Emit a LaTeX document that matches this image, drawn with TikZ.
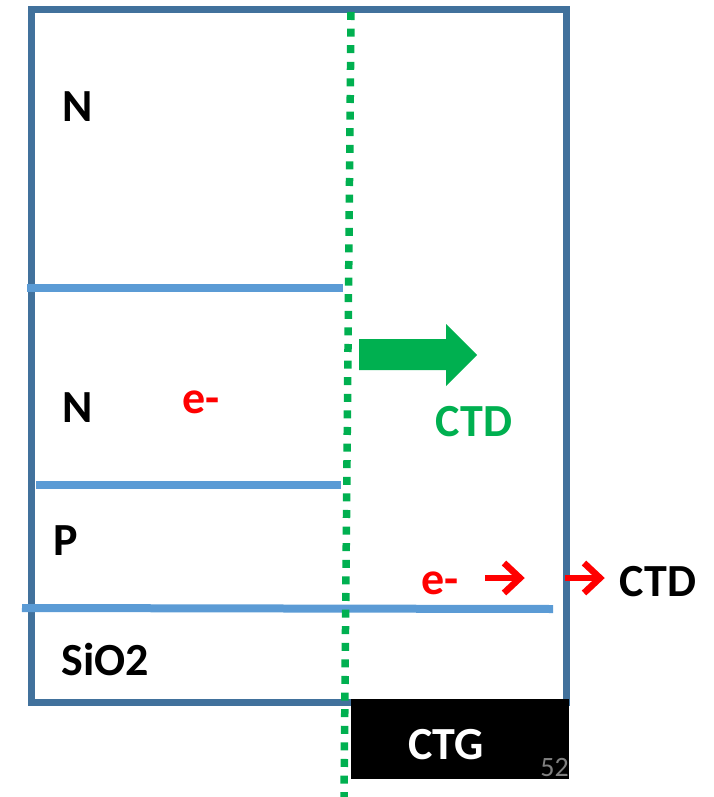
\documentclass[tikz,border=0pt]{standalone}
\usepackage{fontspec}
\setmainfont{Carlito}
\definecolor{frameblue}{HTML}{41719C}
\definecolor{layerblue}{HTML}{5B9BD5}
\definecolor{ctdgreen}{HTML}{00B050}
\definecolor{pagegray}{HTML}{7F7F7F}
\tikzset{
  lbl/.style={font=\fontsize{46}{50}\selectfont\bfseries, inner sep=0pt},
  redlbl/.style={lbl, text=red},
  layer/.style={draw=layerblue, line width=8pt},
  redarrow/.style={draw=red, line width=6.5pt, line join=miter, miter limit=10}
}
\begin{document}
\begin{tikzpicture}[x=1pt,y=-1pt]
\useasboundingbox (0,0) rectangle (713,797);
% outer frame
\draw[frameblue, line width=7pt] (31,10) rectangle (566,702);
% layer lines
\draw[layer] (27,288) -- (343,288);
\draw[layer] (36,485) -- (341,485);
\draw[layer] (22,608) -- (553,609);
% CTG box
\node[fill=black, minimum width=218pt, minimum height=80pt, inner sep=0pt, anchor=north west] (ctg) at (351,699) {};
\node[lbl, text=white] (ctgl) at (446,745) {CTG};
\node[font=\fontsize{28}{30}\selectfont, text=pagegray, inner sep=0pt, anchor=south east] (pg) at (569,777) {52};
% green dotted line
\draw[ctdgreen, line width=7.5pt, dash pattern=on 8pt off 8.6pt] (351,12) -- (344,797);
% green arrow
\fill[ctdgreen] (359,339) -- (446,339) -- (446,324) -- (477,355) -- (446,386) -- (446,370) -- (359,370) -- cycle;
% labels
\node[lbl] (n1) at (78,107) {N};
\node[lbl] (n2) at (78,408) {N};
\node[redlbl] (e1) at (201,402) {e-};
\node[lbl] (p) at (66,541) {P};
\node[lbl] (sio) at (105,660) {SiO2};
\node[lbl, text=ctdgreen] (ctdg) at (474,422) {CTD};
\node[redlbl] (e2) at (440,583) {e-};
\node[lbl] (ctdb) at (658,582) {CTD};
\coordinate (a1s) at (485,578);
\coordinate (a1e) at (520,578);
\coordinate (a2s) at (565,578);
\coordinate (a2e) at (600,578);
\draw[redarrow] (a1s) -- (a1e);
\draw[redarrow] ([shift={(-16,-15)}]a1e) -- (a1e) -- ([shift={(-16,15)}]a1e);
\draw[redarrow] (a2s) -- (a2e);
\draw[redarrow] ([shift={(-16,-15)}]a2e) -- (a2e) -- ([shift={(-16,15)}]a2e);
\end{tikzpicture}
\end{document}
